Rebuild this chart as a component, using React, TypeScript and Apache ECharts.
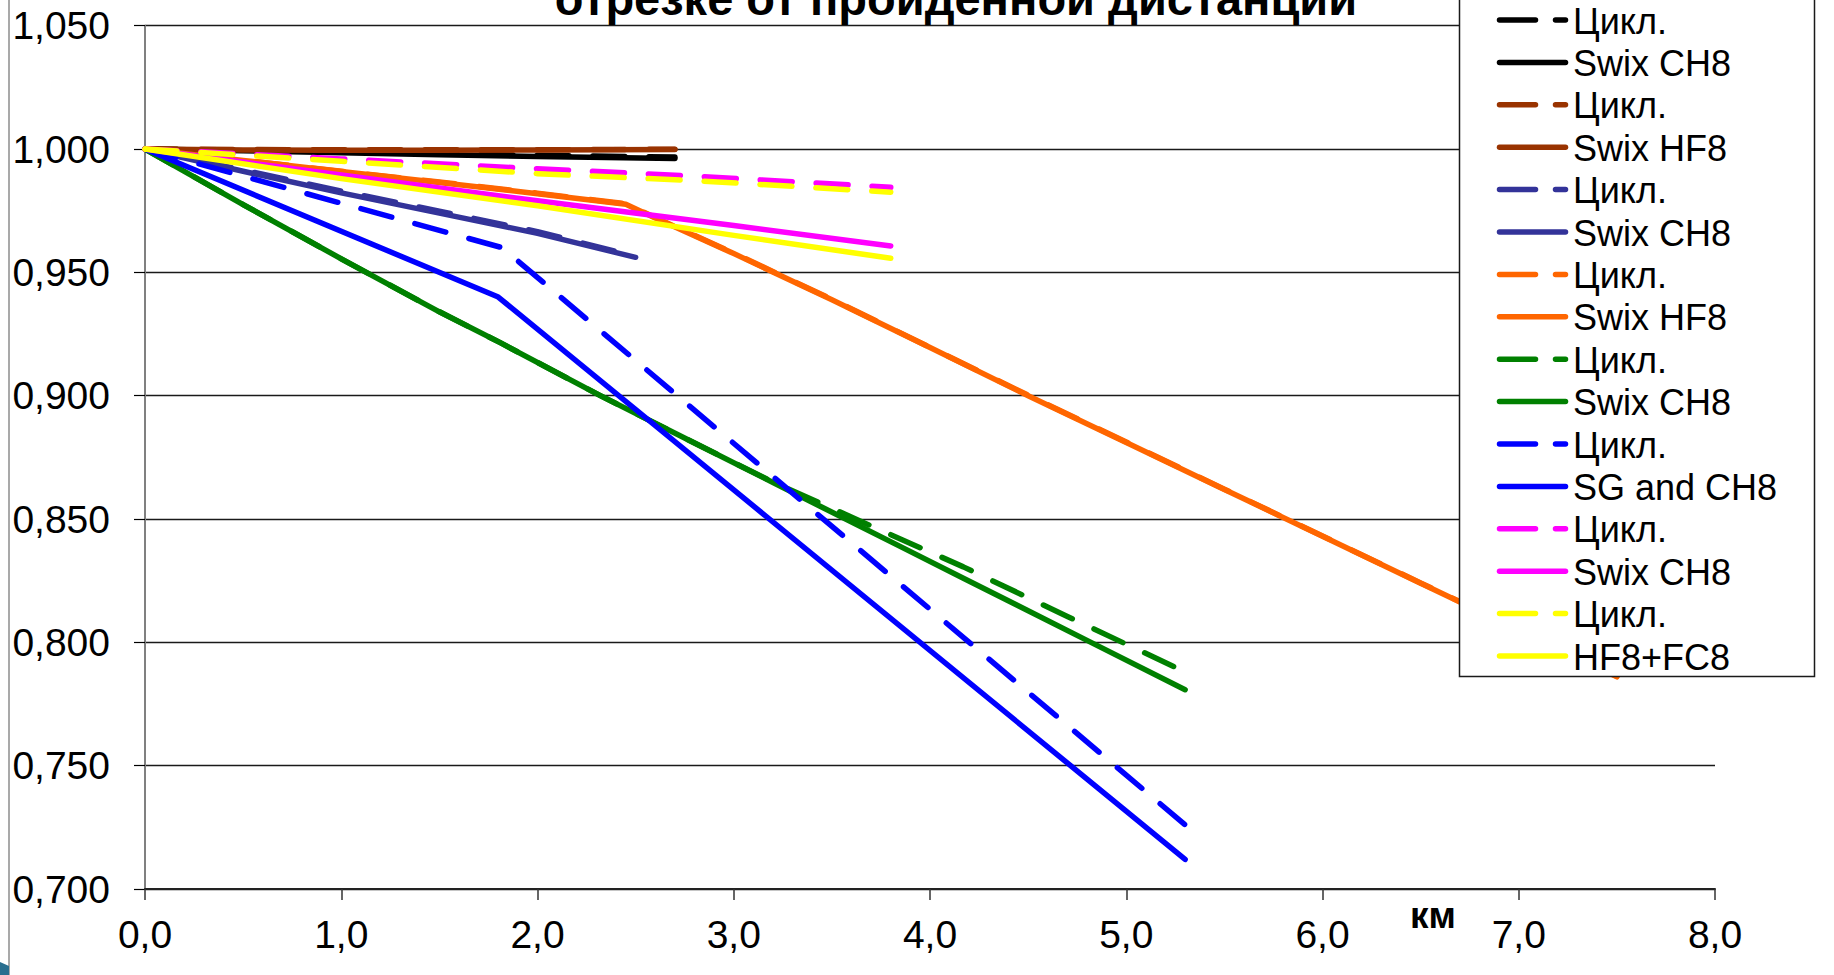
import React, { useEffect, useRef } from "react";
import * as echarts from "echarts";

// ---- Data (x: km, y: relative value) ----
const seriesNames = [
  "Цикл.", "Swix CH8",
  "Цикл.", "Swix HF8",
  "Цикл.", "Swix CH8",
  "Цикл.", "Swix HF8",
  "Цикл.", "Swix CH8",
  "Цикл.", "SG and CH8",
  "Цикл.", "Swix CH8",
  "Цикл.", "HF8+FC8",
];

const seriesColors = [
  "#000000", "#000000",
  "#993300", "#993300",
  "#333399", "#333399",
  "#FF6600", "#FF6600",
  "#008000", "#008000",
  "#0000FF", "#0000FF",
  "#FF00FF", "#FF00FF",
  "#FFFF00", "#FFFF00",
];

const seriesDashed = [true, false, true, false, true, false, true, false, true, false, true, false, true, false, true, false];

const blackCycle = [[0, 1], [0.5, 0.9995], [1, 0.9988], [1.5, 0.998], [2, 0.9974], [2.7, 0.9968]];
const blackCH8 = [[0, 1], [0.5, 0.9993], [1, 0.9985], [1.5, 0.9977], [2, 0.997], [2.7, 0.9962]];
const brownCycle = [[0, 1], [0.5, 0.9998], [1, 0.9997], [1.5, 0.9997], [2, 0.9997], [2.7, 0.9999]];
const brownHF8 = [[0, 1], [0.5, 0.9996], [1, 0.9995], [1.5, 0.9995], [2, 0.9996], [2.7, 0.9998]];
const navyCycle = [[0, 1], [0.5, 0.9915], [1, 0.983], [1.5, 0.9748], [2, 0.9665], [2.45, 0.9575]];
const navyCH8 = [[0, 1], [0.5, 0.991], [1, 0.9822], [1.5, 0.974], [2, 0.9658], [2.5, 0.9561]];
const orangeCycle = [[0, 1], [0.5, 0.9955], [1, 0.991], [1.5, 0.9866], [2, 0.9821], [2.45, 0.9778], [2.6, 0.9722], [3, 0.9578], [3.5, 0.9391], [4, 0.9196], [4.5, 0.9002], [5, 0.8812], [5.5, 0.8621], [6, 0.8431], [6.5, 0.8241], [7, 0.8051], [7.5, 0.7862]];
const orangeHF8 = [[0, 1], [0.5, 0.9954], [1, 0.9909], [1.5, 0.9864], [2, 0.9819], [2.45, 0.9776], [2.6, 0.972], [3, 0.9576], [3.5, 0.9389], [4, 0.9195], [4.5, 0.9], [5, 0.881], [5.5, 0.862], [6, 0.843], [6.5, 0.824], [7, 0.805], [7.5, 0.786]];
const greenCycle = [[0, 1], [0.5, 0.9775], [1, 0.9555], [1.5, 0.934], [1.81, 0.9215], [2.32, 0.9], [2.8, 0.8808], [3.2, 0.865], [3.7, 0.8472], [4.17, 0.8306], [4.7, 0.8105], [5.3, 0.788]];
const greenCH8 = [[0, 1], [0.5, 0.9775], [1, 0.9555], [1.5, 0.934], [1.81, 0.9215], [2.32, 0.9], [2.8, 0.8808], [3.2, 0.8648], [3.44, 0.8552], [3.85, 0.8388], [4.17, 0.826], [4.81, 0.8004], [5.3, 0.7808]];
const blueCycle = [[0, 1], [1.82, 0.96], [5.3, 0.726]];
const blueSG = [[0, 1], [1.8, 0.94], [5.3, 0.712]];
const pinkCycle = [[0, 1], [1, 0.996], [2, 0.992], [2.8, 0.989], [3.8, 0.9845]];
const pinkCH8 = [[0, 1], [1, 0.9895], [2, 0.979], [3, 0.969], [3.8, 0.9607]];
const yellowCycle = [[0, 1], [1, 0.995], [2, 0.99], [2.8, 0.9872], [3.8, 0.9825]];
const yellowHF = [[0, 1], [1, 0.988], [2, 0.977], [3, 0.965], [3.8, 0.9557]];

const seriesData = [
  blackCycle, blackCH8,
  brownCycle, brownHF8,
  navyCycle, navyCH8,
  orangeCycle, orangeHF8,
  greenCycle, greenCH8,
  blueCycle, blueSG,
  pinkCycle, pinkCH8,
  yellowCycle, yellowHF,
];

const titleText = "отрезке от пройденной дистанции";
const xAxisTitle = "км";

const X_MIN = 0;
const X_MAX = 8;
const X_STEP = 1;
const Y_MIN = 0.7;
const Y_MAX = 1.05;
const Y_STEP = 0.05;

const FONT = "'Liberation Sans', Arial, sans-serif";

export default function App() {
  const ref = useRef<HTMLDivElement>(null);

  useEffect(() => {
    if (!ref.current) return;
    const chart = echarts.init(ref.current, undefined, { renderer: "svg" });

    const series = seriesData.map((d, i) => ({
      type: "line",
      name: seriesNames[i] + "#" + i,
      data: d,
      symbol: "none",
      showSymbol: false,
      z: 2 + i * 0.01,
      lineStyle: {
        color: seriesColors[i],
        width: 5.5,
        type: seriesDashed[i] ? [32, 24] : "solid",
        cap: "round",
        join: "round",
      },
      itemStyle: { color: seriesColors[i] },
      emphasis: { disabled: true },
    }));

    // legend drawn as graphic (line sample + text)
    const LEG_X0 = 1499.5;
    const LEG_X1 = 1565.5;
    const LEG_Y0 = 20;
    const LEG_STEP = 42.4;
    const legendGraphics: any[] = [];
    seriesNames.forEach((name, i) => {
      const y = LEG_Y0 + i * LEG_STEP;
      legendGraphics.push({
        type: "line",
        z: 7,
        shape: { x1: LEG_X0, y1: y, x2: LEG_X1, y2: y },
        style: {
          stroke: seriesColors[i],
          lineWidth: 5.5,
          lineCap: "round",
          lineDash: seriesDashed[i] ? [36, 20] : null,
        },
      });
      legendGraphics.push({
        type: "text",
        z: 7,
        x: 1573,
        y: y + 1,
        style: {
          text: name,
          font: "36px 'Liberation Sans', Arial, sans-serif",
          fill: "#000000",
          textAlign: "left",
          textVerticalAlign: "middle",
        },
      });
    });

    chart.setOption({
      animation: false,
      backgroundColor: "#ffffff",
      grid: { left: 145, right: 119, top: 25.7, bottom: 86, containLabel: false },
      xAxis: {
        type: "value",
        min: X_MIN,
        max: X_MAX,
        interval: X_STEP,
        axisLine: { show: true, lineStyle: { color: "#222222", width: 2 } },
        axisTick: { show: true, length: 11, lineStyle: { color: "#333333", width: 1.5 } },
        splitLine: { show: false },
        axisLabel: {
          margin: 26,
          color: "#000000",
          fontFamily: FONT,
          fontSize: 39,
          lineHeight: 39,
          formatter: (v: number) => v.toFixed(1).replace(".", ","),
        },
      },
      yAxis: {
        type: "value",
        min: Y_MIN,
        max: Y_MAX,
        interval: Y_STEP,
        axisLine: { show: true, onZero: false, lineStyle: { color: "#808080", width: 2 } },
        axisTick: { show: true, length: 11, lineStyle: { color: "#000000", width: 1.2 } },
        splitLine: { show: true, lineStyle: { color: "#1a1a1a", width: 1.4 } },
        axisLabel: {
          margin: 35,
          color: "#000000",
          fontFamily: FONT,
          fontSize: 39,
          formatter: (v: number) => v.toFixed(3).replace(".", ","),
        },
      },
      legend: { show: false },
      graphic: [
        {
          type: "rect",
          z: 5,
          shape: { x: 1459.5, y: -5, width: 355, height: 681.5 },
          style: { fill: "#ffffff", stroke: "#1a1a1a", lineWidth: 1.5 },
        },
        ...legendGraphics,
        {
          type: "line",
          z: 5,
          shape: { x1: 9, y1: 0, x2: 9, y2: 975 },
          style: { stroke: "#8c8c8c", lineWidth: 1.5 },
        },
        {
          type: "polygon",
          z: 5,
          shape: { points: [[0, 962], [9, 966], [9, 975], [0, 975]] },
          style: { fill: "#2a6f8f" },
        },
        {
          type: "text",
          z: 6,
          x: 956,
          y: -2,
          style: {
            text: titleText,
            font: "bold 47px 'Liberation Sans', Arial, sans-serif",
            fill: "#000000",
            textAlign: "center",
            textVerticalAlign: "middle",
          },
        },
        {
          type: "text",
          z: 6,
          x: 1433,
          y: 915,
          style: {
            text: xAxisTitle,
            font: "bold 37px 'Liberation Sans', Arial, sans-serif",
            fill: "#000000",
            textAlign: "center",
            textVerticalAlign: "middle",
          },
        },
      ],
      series,
    });

    return () => {
      chart.dispose();
    };
  }, []);

  return (
    <div
      ref={ref}
      style={{ position: "absolute", left: 0, top: 0, width: 1834, height: 975, background: "#fff" }}
    />
  );
}
